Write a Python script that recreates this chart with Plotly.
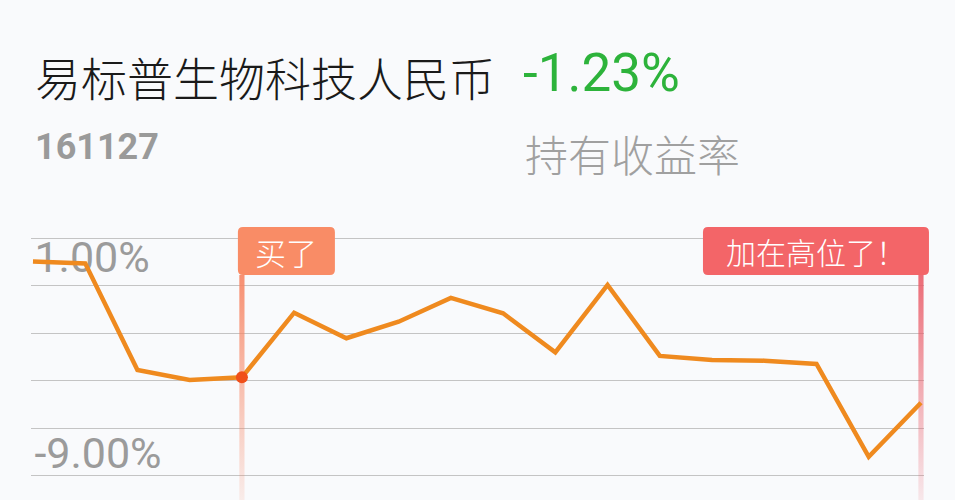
import plotly.graph_objects as go

# holding return curve, in percent
days = list(range(18))
returns = [0.74, 0.65, -4.78, -5.28, -5.15, -1.86, -3.16, -2.32, -1.11,
           -1.89, -3.88, -0.45, -4.06, -4.27, -4.30, -4.47, -9.19, -6.44]

buy_index = 4
add_index = 17

fund_name = "易标普生物科技人民币"
fund_code = "161127"
holding_return = "-1.23%"
return_label = "持有收益率"

label_vals = [1, -9]
label_text = ["1.00%", "-9.00%"]
grid_vals = [1.926, -0.490, -2.906, -5.322, -7.738, -10.154]

buy_text = "买了"
add_text = "加在高位了！"

CJK = "Noto Sans CJK SC"
BG = "#f9fafc"

W, H = 955, 500
X_RANGE = [-0.03, 17.06]
X_PX = [31.4, 924.1]
# y axis: 19.65 px per percent, 1.00% sits at 256.5 px from the top
px_per = 19.65
y_top = 1 + 256.5 / px_per
y_bot = 1 - (H - 256.5) / px_per


def y_at(px):
    return 1 - (px - 256.5) / px_per


def x_paper(v):
    frac = (v - X_RANGE[0]) / (X_RANGE[1] - X_RANGE[0])
    return (X_PX[0] + frac * (X_PX[1] - X_PX[0])) / W


def rounded_box(x0, x1, y0, y1, r=5):
    return (f"M {x0 + r},{y0} L {x1 - r},{y0} Q {x1},{y0} {x1},{y0 + r} "
            f"L {x1},{y1 - r} Q {x1},{y1} {x1 - r},{y1} L {x0 + r},{y1} "
            f"Q {x0},{y1} {x0},{y1 - r} L {x0},{y0 + r} Q {x0},{y0} {x0 + r},{y0} Z")


flag_bottom = y_at(275)
half = 2.6 / 52.24

fig = go.Figure()

# the two flag poles, fading toward the bottom
for idx, rgb in [(buy_index, "247,132,98"), (add_index, "234,92,104")]:
    fig.add_trace(go.Scatter(
        x=[days[idx] - half, days[idx] + half, days[idx] + half, days[idx] - half],
        y=[flag_bottom, flag_bottom, y_bot, y_bot],
        mode="none", fill="toself",
        fillgradient=dict(type="vertical",
                          colorscale=[[0, f"rgba({rgb},0.12)"], [0.5, f"rgba({rgb},0.5)"],
                                      [1, f"rgba({rgb},0.9)"]]),
        hoverinfo="skip", showlegend=False))

fig.add_trace(go.Scatter(x=days, y=returns, mode="lines",
                         line=dict(color="#ef8a1f", width=4.5),
                         hoverinfo="skip", showlegend=False))
fig.add_trace(go.Scatter(x=[days[buy_index]], y=[returns[buy_index]], mode="markers",
                         marker=dict(color="#f0501a", size=12),
                         hoverinfo="skip", showlegend=False))

fig.update_layout(
    width=W, height=H,
    margin=dict(l=0, r=0, t=0, b=0),
    paper_bgcolor=BG, plot_bgcolor=BG,
    xaxis=dict(range=X_RANGE, domain=[X_PX[0] / W, X_PX[1] / W],
               showgrid=False, zeroline=False, showticklabels=False, fixedrange=True),
    yaxis=dict(range=[y_bot, y_top], domain=[0, 1], zeroline=False, fixedrange=True,
               tickvals=label_vals, ticktext=label_text, showgrid=False,
               ticklabelposition="inside", ticks="", layer="below traces",
               tickfont=dict(family="Roboto", size=43, color="#9b9b9b"),
               minor=dict(tickvals=grid_vals, showgrid=True, gridcolor="#c4c4c4",
                          gridwidth=1, ticks="")),
)

fig.add_annotation(text=fund_name, xref="paper", yref="paper", x=33 / W, y=1 - 76 / H,
                   xanchor="left", yanchor="middle", showarrow=False,
                   font=dict(family=CJK, size=46, color="#1a1a1a", weight=300))
fig.add_annotation(text=holding_return, xref="paper", yref="paper", x=521 / W, y=1 - 73 / H,
                   xanchor="left", yanchor="middle", showarrow=False,
                   font=dict(family="Roboto", size=53, color="#2db33b"))
fig.add_annotation(text=f"<b>{fund_code}</b>", xref="paper", yref="paper", x=33 / W, y=1 - 147 / H,
                   xanchor="left", yanchor="middle", showarrow=False,
                   font=dict(family="Roboto", size=36, color="#9a9a9a"))
fig.add_annotation(text=return_label, xref="paper", yref="paper", x=523 / W, y=1 - 153 / H,
                   xanchor="left", yanchor="middle", showarrow=False,
                   font=dict(family=CJK, size=43, color="#a0a0a0", weight=300))

# flags: rounded boxes hung on the poles, text on top (paper refs so they are not clipped)
flags = [(buy_index, buy_text, "#f98c66", -4, 93, 31),
         (add_index, add_text, "#f36568", -218, 8, 30)]
for idx, text, color, left, right, fsize in flags:
    fig.add_shape(type="path", xref="paper", yref="y",
                  xsizemode="pixel", ysizemode="pixel",
                  xanchor=x_paper(days[idx]), yanchor=flag_bottom,
                  path=rounded_box(left, right, 0, 48),
                  fillcolor=color, line_width=0, layer="above")
    fig.add_annotation(text=text, x=days[idx], y=flag_bottom, xref="x", yref="y",
                       xanchor="center", yanchor="middle",
                       xshift=(left + right) / 2, yshift=24, showarrow=False,
                       font=dict(family=CJK, size=fsize, color="white", weight=300))

# drop the page margin so the figure fills the window
fig.write_html("out.html", config={"displayModeBar": False},
               post_script="document.body.style.margin='0';")
